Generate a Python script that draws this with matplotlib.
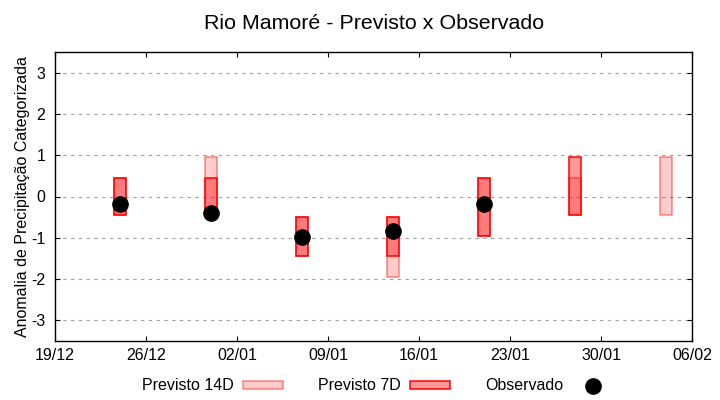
import numpy as np
import pandas as pd
import matplotlib
matplotlib.use('Agg')
import matplotlib.pyplot as plt
import matplotlib.dates as mdates
from matplotlib.patches import Patch
from matplotlib.lines import Line2D

plt.rcParams['font.family'] = ['Liberation Sans', 'DejaVu Sans']
plt.rcParams['axes.unicode_minus'] = False

# semanas de previsao
datas = pd.to_datetime(['2023-12-24', '2023-12-31', '2024-01-07', '2024-01-14',
                        '2024-01-21', '2024-01-28', '2024-02-04'])
p14_min = [-0.45, -0.45, -1.45, -1.95, -0.95, -0.45, -0.45]
p14_max = [0.45, 0.95, -0.5, -0.5, 0.45, 0.45, 0.95]
p7_min = [-0.45, -0.45, -1.45, -1.45, -0.95, -0.45, np.nan]
p7_max = [0.45, 0.45, -0.5, -0.5, 0.45, 0.95, np.nan]
obs = [-0.17, -0.39, -0.98, -0.83, -0.17, np.nan, np.nan]

xticks = pd.date_range('2023-12-19', '2024-02-06', freq='7D')

fig = plt.figure(figsize=(7.2, 4.0), dpi=100)
ax = fig.add_axes([0.0764, 0.1475, 0.8847, 0.7225])

h14 = np.array(p14_max) - np.array(p14_min)
h7 = np.array(p7_max) - np.array(p7_min)
ax.bar(datas, h14, bottom=p14_min, width=0.9,
       facecolor=(1, 0, 0, 0.2), edgecolor=(1, 0, 0, 0.45), linewidth=1.1, zorder=2)
ax.bar(datas, h7, bottom=p7_min, width=0.9,
       facecolor=(1, 0, 0, 0.4), edgecolor=(1, 0, 0, 1), linewidth=1.1, zorder=3)
ax.plot(datas, obs, 'o', color='black', markersize=11, zorder=4)

ax.set_ylim(-3.5, 3.5)
ax.set_yticks([-3, -2, -1, 0, 1, 2, 3])
ax.set_xlim(xticks[0], xticks[-1])
ax.set_xticks(xticks)
ax.xaxis.set_major_formatter(mdates.DateFormatter('%d/%m'))
ax.tick_params(direction='in', top=True, right=True, labelsize=11.5, length=3.5,
               colors='black')
ax.tick_params(axis='x', pad=5)
ax.tick_params(axis='y', pad=7)
ax.grid(axis='y', linestyle=(0, (3, 4)), color='#a0a0a0', linewidth=0.8)
ax.set_axisbelow(True)
for s in ax.spines.values():
    s.set_linewidth(1.0)

ax.set_ylabel('Anomalia de Precipitação Categorizada', fontsize=11.5, labelpad=1)
fig.suptitle('Rio Mamoré - Previsto x Observado', fontsize=15.4, x=0.519, y=0.965)

handles = [Patch(facecolor=(1, 0, 0, 0.2), edgecolor=(1, 0, 0, 0.45), linewidth=1.1),
           Patch(facecolor=(1, 0, 0, 0.4), edgecolor='red', linewidth=1.1),
           Line2D([], [], marker='o', color='black', linestyle='none', markersize=11)]
fig.legend(handles, ['Previsto 14D', 'Previsto 7D', 'Observado'],
           loc='center', bbox_to_anchor=(0.524, 0.035), ncol=3, frameon=False,
           markerfirst=False, fontsize=11.5, handlelength=2.5, handleheight=0.35,
           handletextpad=0.6, columnspacing=2.2)

fig.savefig('out.png', dpi=100)
